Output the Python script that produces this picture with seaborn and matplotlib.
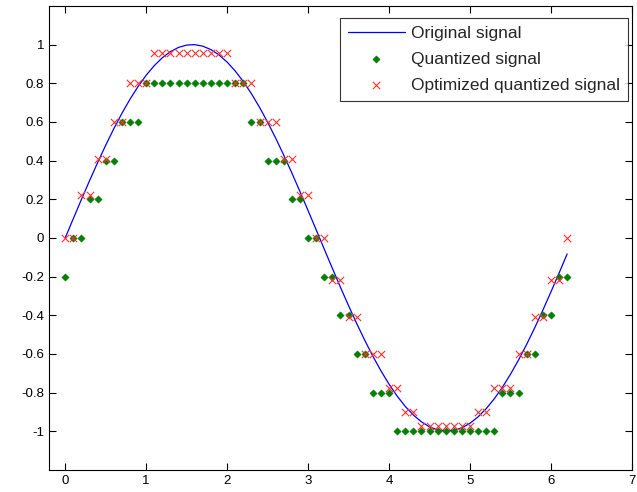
import seaborn as sns
import matplotlib
matplotlib.use("Agg")
import matplotlib.pyplot as plt
from matplotlib.ticker import FuncFormatter
import pandas as pd

t = [0.0, 0.1, 0.2, 0.3, 0.4, 0.5, 0.6, 0.7, 0.8, 0.9,
     1.0, 1.1, 1.2, 1.3, 1.4, 1.5, 1.6, 1.7, 1.8, 1.9,
     2.0, 2.1, 2.2, 2.3, 2.4, 2.5, 2.6, 2.7, 2.8, 2.9,
     3.0, 3.1, 3.2, 3.3, 3.4, 3.5, 3.6, 3.7, 3.8, 3.9,
     4.0, 4.1, 4.2, 4.3, 4.4, 4.5, 4.6, 4.7, 4.8, 4.9,
     5.0, 5.1, 5.2, 5.3, 5.4, 5.5, 5.6, 5.7, 5.8, 5.9,
     6.0, 6.1, 6.2]

original = [0.0, 0.0998, 0.1987, 0.2955, 0.3894, 0.4794, 0.5646, 0.6442, 0.7174, 0.7833,
            0.8415, 0.8912, 0.9320, 0.9636, 0.9854, 0.9975, 0.9996, 0.9917, 0.9738, 0.9463,
            0.9093, 0.8632, 0.8085, 0.7457, 0.6755, 0.5985, 0.5155, 0.4274, 0.3350, 0.2392,
            0.1411, 0.0416, -0.0584, -0.1577, -0.2555, -0.3508, -0.4425, -0.5298, -0.6119, -0.6878,
            -0.7568, -0.8183, -0.8716, -0.9162, -0.9516, -0.9775, -0.9937, -1.0, -0.9962, -0.9825,
            -0.9589, -0.9258, -0.8835, -0.8323, -0.7728, -0.7055, -0.6313, -0.5507, -0.4646, -0.3739,
            -0.2794, -0.1822, -0.0831]

quantized = [-0.2, 0.0, 0.0, 0.2, 0.2, 0.4, 0.4, 0.6, 0.6, 0.6,
             0.8, 0.8, 0.8, 0.8, 0.8, 0.8, 0.8, 0.8, 0.8, 0.8,
             0.8, 0.8, 0.8, 0.6, 0.6, 0.4, 0.4, 0.4, 0.2, 0.2,
             0.0, 0.0, -0.2, -0.2, -0.4, -0.4, -0.6, -0.6, -0.8, -0.8,
             -0.8, -1.0, -1.0, -1.0, -1.0, -1.0, -1.0, -1.0, -1.0, -1.0,
             -1.0, -1.0, -1.0, -1.0, -0.8, -0.8, -0.8, -0.6, -0.6, -0.4,
             -0.4, -0.2, -0.2]

optimized = [0.0, 0.0, 0.22, 0.22, 0.41, 0.41, 0.60, 0.60, 0.80, 0.80,
             0.80, 0.955, 0.955, 0.955, 0.955, 0.955, 0.955, 0.955, 0.955, 0.955,
             0.955, 0.80, 0.80, 0.80, 0.60, 0.60, 0.60, 0.41, 0.41, 0.22,
             0.22, 0.0, 0.0, -0.22, -0.22, -0.41, -0.41, -0.60, -0.60, -0.60,
             -0.775, -0.775, -0.90, -0.90, -0.975, -0.975, -0.975, -0.975, -0.975, -0.975,
             -0.975, -0.90, -0.90, -0.775, -0.775, -0.775, -0.60, -0.60, -0.41, -0.41,
             -0.22, -0.22, 0.0]

df = pd.DataFrame({"t": t, "orig": original, "quant": quantized, "opt": optimized})

sns.set_style("ticks")
plt.rcParams["font.family"] = ["Liberation Sans", "DejaVu Sans"]

fig = plt.figure(figsize=(6.37, 4.92), dpi=100)
ax = fig.add_axes([0.077, 0.045, 0.915, 0.943])

sns.lineplot(data=df, x="t", y="orig", ax=ax, color="#0000ff", linewidth=0.9,
             label="Original signal")
sns.scatterplot(data=df, x="t", y="quant", ax=ax, marker="D", s=14, color="#007f00",
                edgecolor="#007f00", linewidth=0.3, label="Quantized signal", zorder=3)
sns.scatterplot(data=df, x="t", y="opt", ax=ax, marker="x", s=28, color="#ff3030",
                linewidth=0.8, label="Optimized quantized signal", zorder=4)

ax.set_xlim(-0.2, 7)
ax.set_ylim(-1.2, 1.2)
ax.set_xticks(range(0, 8))
ax.set_yticks([-1, -0.8, -0.6, -0.4, -0.2, 0, 0.2, 0.4, 0.6, 0.8, 1])
ax.yaxis.set_major_formatter(FuncFormatter(lambda v, p: "%g" % round(v, 1)))
ax.set_xlabel("")
ax.set_ylabel("")
ax.tick_params(direction="in", length=5, width=0.8, top=True, right=True,
               labelsize=9.5, colors="black")
for s in ax.spines.values():
    s.set_linewidth(0.8)
    s.set_color("black")

leg = ax.legend(loc="upper right", bbox_to_anchor=(0.993, 0.974), fontsize=12.5,
                frameon=True, fancybox=False, borderpad=0.45, labelspacing=0.62,
                handlelength=3.3, handletextpad=0.35, borderaxespad=0.0)
leg.get_frame().set_edgecolor("black")
leg.get_frame().set_linewidth(0.8)

fig.savefig("out.png", dpi=100)
